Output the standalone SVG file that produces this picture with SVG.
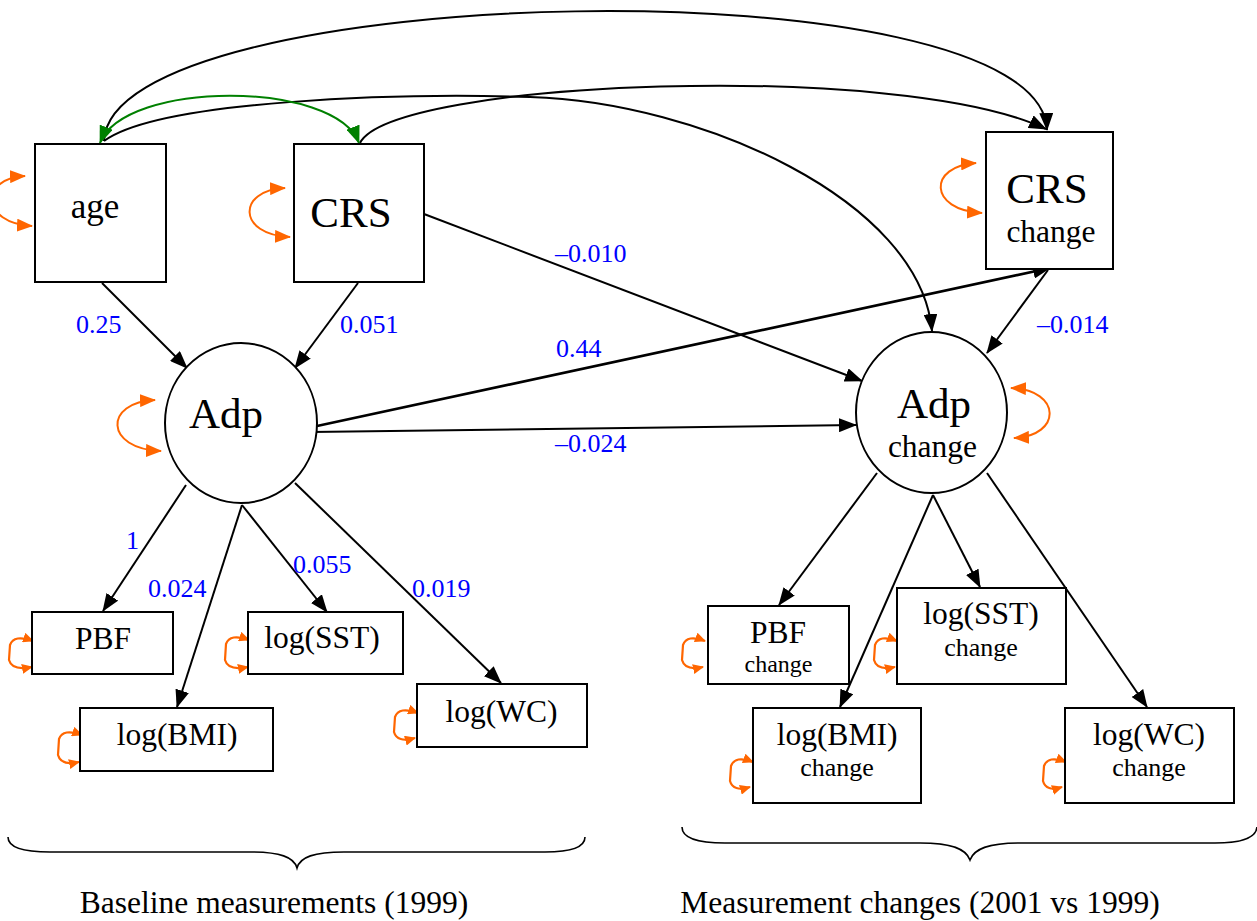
<svg xmlns="http://www.w3.org/2000/svg" width="1257" height="921" viewBox="0 0 1257 921">
<style>
.box{fill:#fff;stroke:#000;stroke-width:2}
.lat{fill:#fff;stroke:#000;stroke-width:2}
.t{font-family:"Liberation Serif","Times New Roman",serif;fill:#000;text-anchor:middle}
.lbl{font-family:"Liberation Serif","Times New Roman",serif;fill:#0000FF;font-size:26px}
.e{fill:none;stroke:#000;stroke-width:2;marker-end:url(#ah)}
.g{fill:none;stroke:#008000;stroke-width:2;marker-start:url(#ahg);marker-end:url(#ahg)}
.v{fill:none;stroke:#FF6600;stroke-width:2;marker-start:url(#aho);marker-end:url(#aho)}
.vs{fill:none;stroke:#FF6600;stroke-width:2.2;marker-start:url(#ahos);marker-end:url(#ahos)}
.br{fill:none;stroke:#000;stroke-width:1.6}
</style>
<defs>
<marker id="ah" viewBox="0 0 18 14" refX="17" refY="7" markerWidth="18" markerHeight="14" markerUnits="userSpaceOnUse" orient="auto-start-reverse"><path d="M0,0 L18,7 L0,14 z" fill="#000"/></marker>
<marker id="ahg" viewBox="0 0 18 14" refX="17" refY="7" markerWidth="18" markerHeight="14" markerUnits="userSpaceOnUse" orient="auto-start-reverse"><path d="M0,0 L18,7 L0,14 z" fill="#008000"/></marker>
<marker id="aho" viewBox="0 0 16 13" refX="15" refY="6.5" markerWidth="16" markerHeight="13" markerUnits="userSpaceOnUse" orient="auto-start-reverse"><path d="M0,0 L16,6.5 L0,13 z" fill="#FF6600"/></marker>
<marker id="ahos" viewBox="0 0 11 10" refX="10" refY="5" markerWidth="11" markerHeight="10" markerUnits="userSpaceOnUse" orient="auto-start-reverse"><path d="M0,0 L11,5 L0,10 z" fill="#FF6600"/></marker>
</defs>
<rect width="1257" height="921" fill="#fff"/>

<g id="connectors">
  <path class="e" d="M104,141 C110,-20 1040,-40 1047,130"/>
  <path class="e" d="M104,141 C160,100 400,93 530,97 C700,102 920,200 932,331"/>
  <path class="e" d="M360,143 C392,80 900,60 1046,129"/>
  <path class="g" d="M100,143 C125,80 335,80 359,143"/>
  <path class="e" d="M102,283 L187,368"/>
  <path class="e" d="M358,283 L295,368"/>
  <path class="e" d="M424,214 L862,381"/>
  <path class="e" style="stroke-width:2.8" d="M317,426 L1050,268"/>
  <path class="e" d="M311,432 L856,425"/>
  <path class="e" d="M1048,270 L987,353"/>
  <path class="e" d="M186,485 L103,611"/>
  <path class="e" d="M242,505 L177,707"/>
  <path class="e" d="M242,505 L327,612"/>
  <path class="e" d="M295,483 L501,683"/>
  <path class="e" d="M877,473 L779,605"/>
  <path class="e" d="M933,495 L840,707"/>
  <path class="e" d="M933,495 L980,587"/>
  <path class="e" d="M987,473 L1147,707"/>
  <g id="variances">
    <path class="v" d="M25,176 C-20,178 -20,223 32,226"/>
    <path class="v" d="M285,188 C237,190 237,235 290,237"/>
    <path class="v" d="M976,163 C928,166 928,210 982,213"/>
    <path class="v" d="M155,400 C104,402 104,449 161,451"/>
    <path class="v" d="M1011,388 C1062,390 1062,436 1014,438"/>
    <path class="vs" d="M33,641 Q14,634 10,645 L9,660 Q12,671 32,667"/>
    <path class="vs" d="M82,735 Q63,728 59,739 L58,755 Q61,766 79,762"/>
    <path class="vs" d="M249,640 Q230,633 226,644 L225,660 Q228,671 248,667"/>
    <path class="vs" d="M418,713 Q399,706 395,717 L394,732 Q397,743 415,738"/>
    <path class="vs" d="M705,641 Q687,634 683,645 L682,660 Q685,671 703,667"/>
    <path class="vs" d="M897,641 Q879,634 875,645 L874,660 Q877,671 895,667"/>
    <path class="vs" d="M753,762 Q735,755 731,766 L730,781 Q733,792 750,787"/>
    <path class="vs" d="M1066,762 Q1048,755 1044,766 L1043,781 Q1046,792 1062,787"/>
  </g>
  <g id="labels">
    <text class="lbl" x="76" y="333">0.25</text>
    <text class="lbl" x="340" y="333">0.051</text>
    <text class="lbl" x="555" y="262">–0.010</text>
    <text class="lbl" x="556" y="357">0.44</text>
    <text class="lbl" x="555" y="452">–0.024</text>
    <text class="lbl" x="1037" y="333">–0.014</text>
    <text class="lbl" x="126" y="549">1</text>
    <text class="lbl" x="148" y="597">0.024</text>
    <text class="lbl" x="293" y="573">0.055</text>
    <text class="lbl" x="412" y="597">0.019</text>
  </g>
</g>

<g id="age"><rect class="box" x="35" y="144" width="131" height="138"/><text class="t" x="95" y="218" font-size="35">age</text></g>
<g id="crs"><rect class="box" x="294" y="144" width="130" height="138"/><text class="t" x="351" y="227" font-size="43">CRS</text></g>
<g id="crs_change"><rect class="box" x="986" y="132" width="127" height="137"/><text class="t" x="1047" y="203" font-size="43">CRS</text><text class="t" x="1051" y="242" font-size="31.5">change</text></g>
<g id="adp"><ellipse class="lat" cx="241" cy="423" rx="76" ry="80"/><text class="t" x="226" y="428" font-size="43">Adp</text></g>
<g id="adp_change"><ellipse class="lat" cx="931.5" cy="412.5" rx="75.5" ry="80.5"/><text class="t" x="934" y="418" font-size="43">Adp</text><text class="t" x="932.5" y="457" font-size="31.5">change</text></g>
<g id="pbf"><rect class="box" x="32" y="612" width="141" height="62"/><text class="t" x="103" y="649" font-size="31.5">PBF</text></g>
<g id="log_bmi"><rect class="box" x="80" y="708" width="193" height="63"/><text class="t" x="177" y="745" font-size="31.5">log(BMI)</text></g>
<g id="log_sst"><rect class="box" x="248" y="612" width="155" height="62"/><text class="t" x="322" y="648" font-size="31.5">log(SST)</text></g>
<g id="log_wc"><rect class="box" x="417" y="684" width="170" height="63"/><text class="t" x="501.5" y="722" font-size="31.5">log(WC)</text></g>
<g id="pbf_change"><rect class="box" x="708" y="606" width="141" height="78"/><text class="t" x="778" y="643" font-size="31.5">PBF</text><text class="t" x="778.5" y="672" font-size="24">change</text></g>
<g id="log_sst_change"><rect class="box" x="897" y="588" width="169" height="96"/><text class="t" x="981" y="624" font-size="31.5">log(SST)</text><text class="t" x="981" y="656" font-size="26">change</text></g>
<g id="log_bmi_change"><rect class="box" x="753" y="708" width="168" height="95"/><text class="t" x="837" y="745" font-size="31.5">log(BMI)</text><text class="t" x="837" y="776" font-size="26">change</text></g>
<g id="log_wc_change"><rect class="box" x="1065" y="708" width="169" height="95"/><text class="t" x="1149" y="745" font-size="31.5">log(WC)</text><text class="t" x="1149" y="776" font-size="26">change</text></g>

<g id="braces">
  <path class="br" d="M8,837 C8,848 25,852 50,852 L250,852 C280,852 294,857 297,868 C300,857 314,852 344,852 L545,852 C570,852 585,848 585,837"/>
  <path class="br" d="M682,827 C682,838 698,843 725,843 L920,843 C952,843 966,849 970,860 C974,849 988,843 1020,843 L1215,843 C1242,843 1256,838 1257,827"/>
  <text class="t" x="274" y="913" font-size="31.5">Baseline measurements (1999)</text>
  <text class="t" x="920" y="913" font-size="31.5">Measurement changes (2001 vs 1999)</text>
</g>
</svg>
